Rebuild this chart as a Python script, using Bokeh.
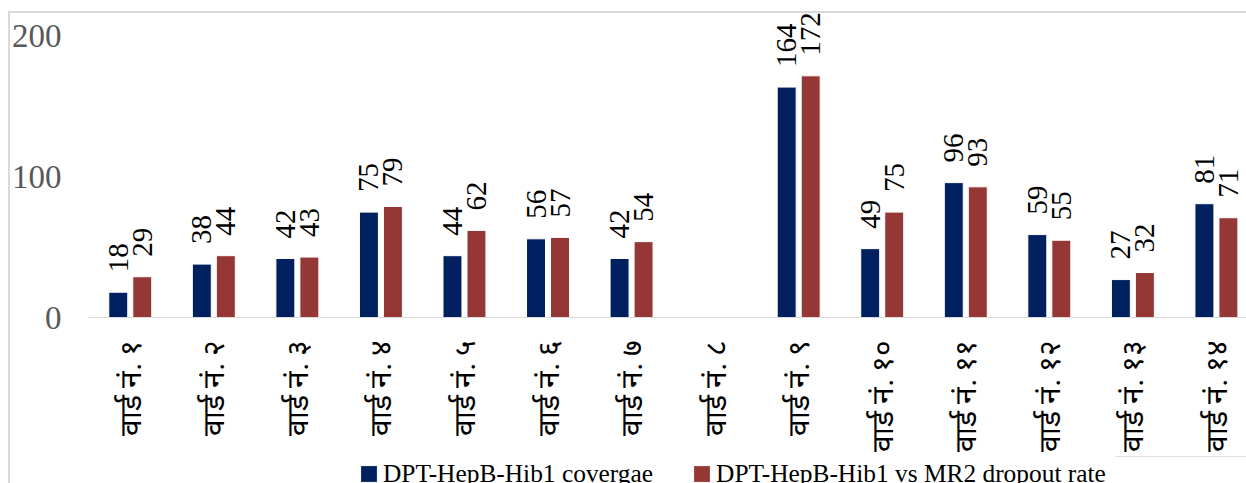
import math
import numpy as np
from bokeh.plotting import figure
from bokeh.layouts import column
from bokeh.models import ColumnDataSource, FixedTicker, Range1d
from bokeh.transform import dodge
from bokeh.core.properties import value
from bokeh.embed import file_html
from bokeh.resources import INLINE

# ---- data ----
wards = ["वार्ड नं. १", "वार्ड नं. २", "वार्ड नं. ३", "वार्ड नं. ४", "वार्ड नं. ५",
         "वार्ड नं. ६", "वार्ड नं. ७", "वार्ड नं. ८", "वार्ड नं. ९", "वार्ड नं. १०",
         "वार्ड नं. ११", "वार्ड नं. १२", "वार्ड नं. १३", "वार्ड नं. १४"]
coverage = [18, 38, 42, 75, 44, 56, 42, None, 164, 49, 96, 59, 27, 81]
dropout = [29, 44, 43, 79, 62, 57, 54, None, 172, 75, 93, 55, 32, 71]
series_names = ["DPT-HepB-Hib1 covergae", "DPT-HepB-Hib1 vs MR2 dropout rate"]
y_ticks = [0, 100, 200]

BLUE = "#002060"
RED = "#953735"
SERIF = "Liberation Serif"

idx = np.arange(1, len(wards) + 1)
cov = np.array([np.nan if v is None else v for v in coverage], dtype=float)
drp = np.array([np.nan if v is None else v for v in dropout], dtype=float)
src = ColumnDataSource(dict(
    x=idx, cov=cov, drp=drp,
    cov_lbl=["" if v is None else str(v) for v in coverage],
    drp_lbl=["" if v is None else str(v) for v in dropout],
))

p = figure(width=1246, height=456, output_backend="svg", toolbar_location=None,
           x_range=Range1d(0.5, 14.36), y_range=Range1d(0, 218.5),
           min_border_left=88, min_border_right=0, min_border_top=10,
           min_border_bottom=139)

off = 0.1436
bw = 0.227
p.vbar(x=dodge("x", -off, range=p.x_range), top="cov", width=bw, source=src,
       fill_color=BLUE, line_color="white", line_width=1)
p.vbar(x=dodge("x", off, range=p.x_range), top="drp", width=bw, source=src,
       fill_color=RED, line_color="white", line_width=1)

for col, lbl, dx in (("cov", "cov_lbl", -off), ("drp", "drp_lbl", off)):
    p.text(x=dodge("x", dx, range=p.x_range), y=col, text=lbl, source=src,
           angle=math.pi / 2, text_align="left", text_baseline="middle",
           y_offset=-20, text_font=value(SERIF), text_font_size="29px",
           text_color="black")

# axes
p.xaxis.ticker = FixedTicker(ticks=[int(i) for i in idx])
p.xaxis.major_label_overrides = {int(i): w for i, w in zip(idx, wards)}
p.xaxis.major_label_orientation = math.pi / 2
p.xaxis.major_tick_line_color = None
p.xaxis.minor_tick_line_color = None
p.xaxis.axis_line_color = "#d9d9d9"
p.xaxis.axis_line_width = 1
p.xaxis.major_label_text_font = SERIF
p.xaxis.major_label_text_font_size = "30px"
p.xaxis.major_label_text_color = "black"
p.xaxis.major_label_standoff = 16

p.yaxis.ticker = FixedTicker(ticks=y_ticks)
p.yaxis.axis_line_color = None
p.yaxis.major_tick_line_color = None
p.yaxis.minor_tick_line_color = None
p.yaxis.major_label_text_font = SERIF
p.yaxis.major_label_text_font_size = "33px"
p.yaxis.major_label_text_color = "#595959"
p.yaxis.major_label_standoff = 21

p.grid.visible = False
p.outline_line_color = None
p.background_fill_color = None
p.border_fill_color = None

# ---- legend strip under the chart ----
pl = figure(width=1246, height=27, output_backend="svg", toolbar_location=None,
            x_range=Range1d(0, 1), y_range=Range1d(-2, -1),
            x_axis_type=None, y_axis_type=None,
            min_border_left=0, min_border_right=0, min_border_top=0,
            min_border_bottom=0)
pl.vbar(x="x", top="cov", width=bw, source=src, fill_color=BLUE,
        line_color="white", line_width=1, legend_label=series_names[0])
pl.vbar(x="x", top="drp", width=bw, source=src, fill_color=RED,
        line_color="white", line_width=1, legend_label=series_names[1])
pl.grid.visible = False
pl.outline_line_color = None
pl.background_fill_color = None
pl.border_fill_color = None

lg = pl.legend[0]
lg.location = (270, -5)
lg.orientation = "horizontal"
lg.label_text_font = SERIF
lg.label_text_font_size = "25.4px"
lg.label_text_color = "black"
lg.glyph_width = 21
lg.glyph_height = 21
lg.label_standoff = 4
lg.spacing = 38
lg.padding = 0
lg.margin = 0
lg.border_line_color = None
lg.background_fill_alpha = 0

layout = column(p, pl, spacing=0)
layout.styles = {
    "background": "linear-gradient(#d9d9d9,#d9d9d9) 8px 11px / 100% 2px no-repeat, "
                  "linear-gradient(#d9d9d9,#d9d9d9) 8px 11px / 2px 100% no-repeat"
}

open("out.html", "w").write(file_html(layout, INLINE))
